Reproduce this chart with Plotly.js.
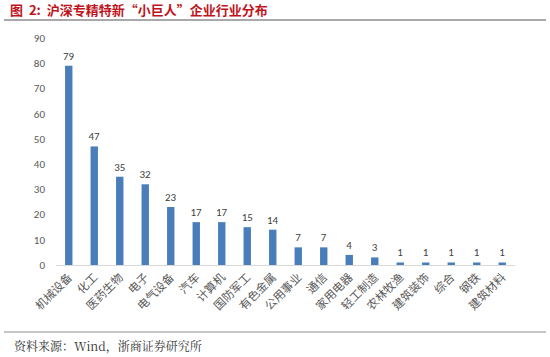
<!DOCTYPE html>
<html><head><meta charset="utf-8">
<script src="https://cdn.plot.ly/plotly-3.0.1.min.js"></script>
<style>html,body{margin:0;padding:0;background:#fff}</style>
</head><body>
<div id="chart" style="width:550px;height:357px"></div>
<script>
const categories = ["机械设备","化工","医药生物","电子","电气设备","汽车","计算机","国防军工","有色金属","公用事业","通信","家用电器","轻工制造","农林牧渔","建筑装饰","综合","钢铁","建筑材料"];
const counts = [79,47,35,32,23,17,17,15,14,7,7,4,3,1,1,1,1,1];
const yTicks = [0,10,20,30,40,50,60,70,80,90];

const L=56, R=515, T=38, B=265, W=550, H=357;
const pw=R-L, ph=B-T;
const px=x=>(x-L)/pw, py=y=>(B-y)/ph;

Plotly.newPlot('chart',[{
  type:'bar', x:categories, y:counts,
  marker:{color:'#4a7ebb'}, width:0.29,
  text:counts.map(String), textposition:'outside', cliponaxis:false,
  constraintext:'none',
  textfont:{family:'Calibri, Carlito, Liberation Sans, Arial',size:11,color:'#404040'},
  hoverinfo:'none'
}],{
  width:W,height:H,
  margin:{l:L,r:W-R,t:T,b:H-B,pad:0},
  paper_bgcolor:'#fff',plot_bgcolor:'#fff',
  showlegend:false,
  xaxis:{type:'category',tickangle:-45,showgrid:false,zeroline:false,
    showline:true,linecolor:'#d9d9d9',linewidth:1,ticks:'',
    tickfont:{family:'Noto Sans CJK SC',size:11.5,color:'#595959'}},
  yaxis:{range:[0,90],tickvals:yTicks,showgrid:false,zeroline:false,showline:false,ticks:'',
    ticklabelstandoff:10,
    tickfont:{family:'Calibri, Carlito, Liberation Sans, Arial',size:11,color:'#595959'}},
  shapes:[
    {type:'line',xref:'paper',yref:'paper',x0:px(4),x1:px(546),y0:py(20),y1:py(20),line:{color:'#8c8c8c',width:1.5}},
    {type:'line',xref:'paper',yref:'paper',x0:px(4),x1:px(546),y0:py(332),y1:py(332),line:{color:'#8c8c8c',width:1}}
  ],
  annotations:[
    {xref:'paper',yref:'paper',x:px(8),y:py(10),xanchor:'left',yanchor:'middle',showarrow:false,
     text:'<b>图&nbsp; 2:&nbsp; 沪深专精特新“小巨人”企业行业分布</b>',
     font:{family:'Noto Sans CJK SC',size:13,color:'#c0141c'}},
    {xref:'paper',yref:'paper',x:px(12),y:py(345),xanchor:'left',yanchor:'middle',showarrow:false,
     text:'资料来源：Wind，浙商证券研究所',
     font:{family:'Noto Serif CJK SC, Liberation Serif, serif',size:12,color:'#333'}}
  ]
},{displayModeBar:false,staticPlot:true});
</script>
</body></html>
